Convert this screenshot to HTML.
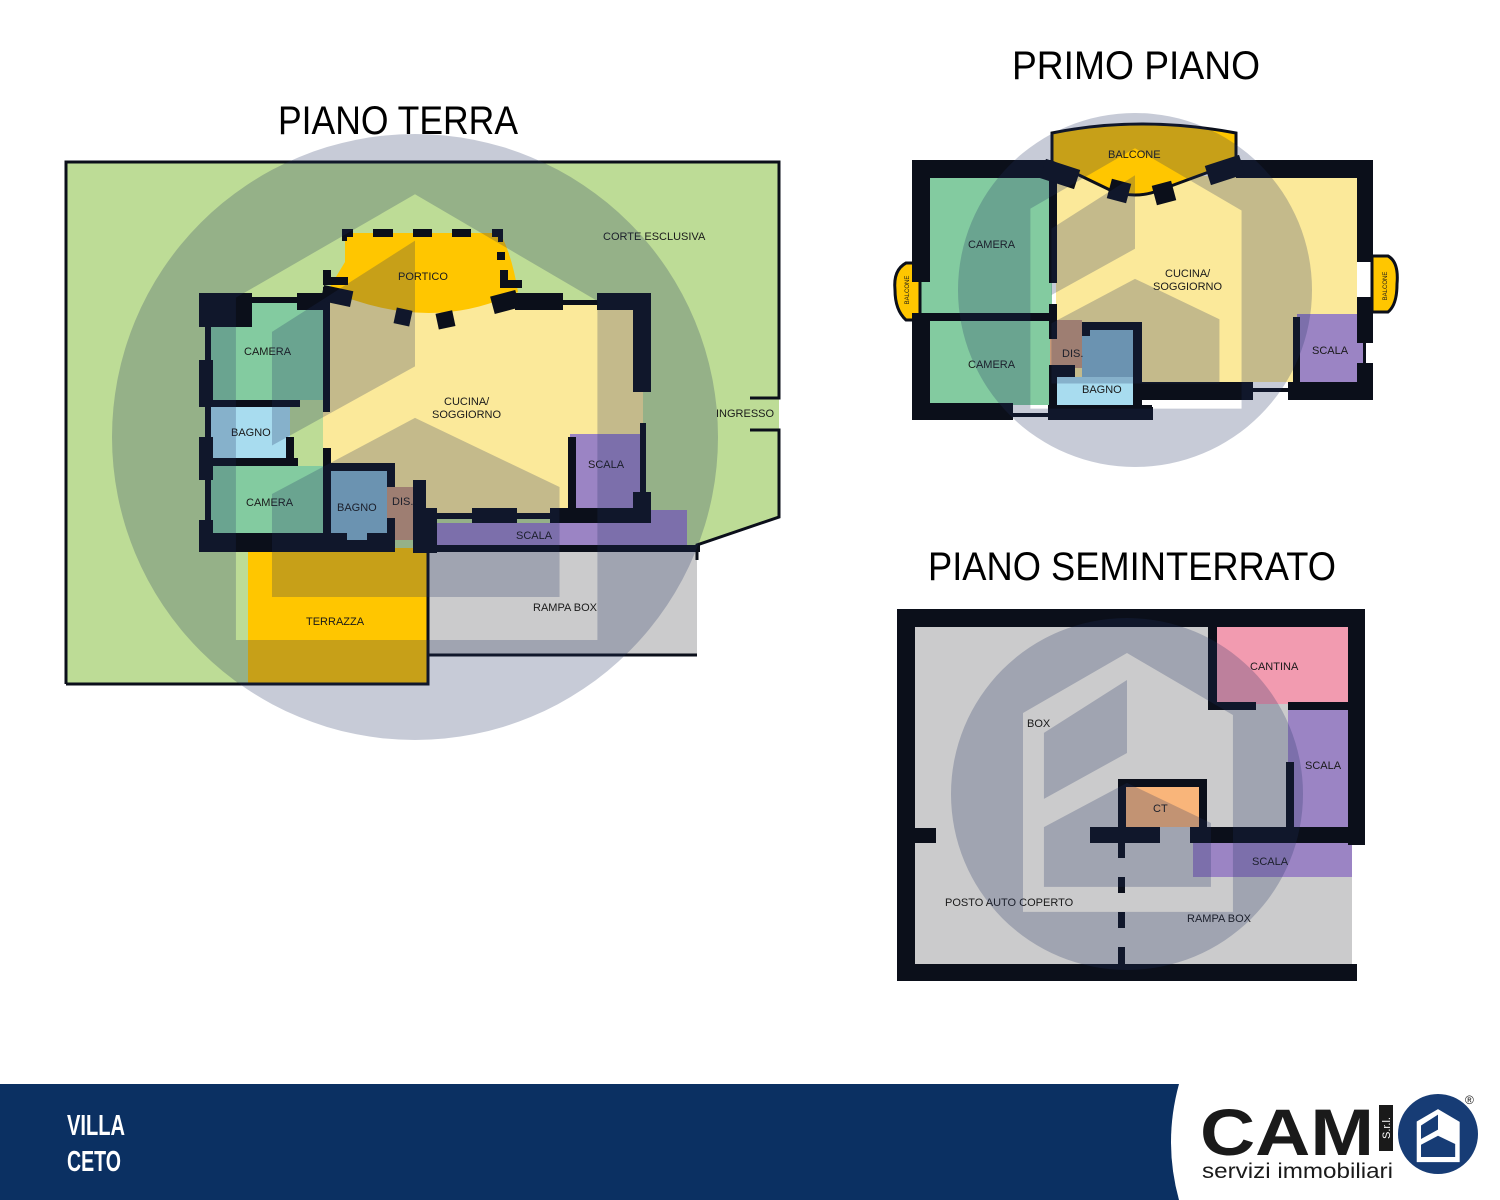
<!DOCTYPE html>
<html><head><meta charset="utf-8"><style>
html,body{margin:0;padding:0;background:#fff;width:1500px;height:1200px;overflow:hidden;}
svg{display:block;}
.t{font-family:"Liberation Sans",sans-serif;font-size:11px;fill:#1a1a1a;}
.h{font-family:"Liberation Sans",sans-serif;font-size:40px;fill:#000;}
</style></head><body>
<svg width="1500" height="1200" viewBox="0 0 1500 1200" xmlns="http://www.w3.org/2000/svg">
<defs>
<path id="ov" fill-rule="evenodd" d="M-1000,0 A1000,1000 0 1,0 1000,0 A1000,1000 0 1,0 -1000,0 Z M-591,-460 L0,-801 L602,-449 L602,670 L-591,670 Z M-472,-347 L0,-648 L0,-233 L-472,28 Z M-472,188 L0,-63 L477,165 L477,528 L-472,528 Z"/>
</defs>

<!-- ============ PIANO TERRA ============ -->
<text class="h" x="278" y="134" textLength="240" lengthAdjust="spacingAndGlyphs">PIANO TERRA</text>
<polygon points="66,162 779,162 779,517 697,545 697,655 428,655 428,684 66,684" fill="#bddc96"/>
<rect x="428" y="545" width="269" height="110" fill="#cbcbcc"/>
<rect x="248" y="548" width="180" height="136" fill="#ffc600"/>
<polyline points="66,684 66,162 779,162 779,398 750,398" fill="none" stroke="#0b0f1a" stroke-width="3"/>
<polyline points="750,430 779,430 779,517 697,545 697,560" fill="none" stroke="#0b0f1a" stroke-width="3"/>
<polyline points="66,684 428,684 428,655 697,655" fill="none" stroke="#0b0f1a" stroke-width="3"/>
<line x1="428" y1="548" x2="428" y2="684" stroke="#0b0f1a" stroke-width="3"/>
<rect x="323" y="300" width="320" height="215" fill="#fbe99a"/>
<path d="M345,233 L500,233 Q512,255 518,292 Q430,335 328,290 L345,262 Z" fill="#ffc600"/>
<rect x="211" y="303" width="112" height="97" fill="#83cba0"/>
<rect x="211" y="407" width="79" height="51" fill="#a8dcef"/>
<rect x="211" y="466" width="112" height="70" fill="#83cba0"/>
<rect x="331" y="471" width="56" height="69" fill="#85b4cc"/>
<rect x="387" y="487" width="31" height="53" fill="#c89878"/>
<rect x="570" y="434" width="70" height="75" fill="#9b84c4"/>
<polygon points="430,523 650,523 650,510 687,510 687,545 430,545" fill="#9b84c4"/>
<g fill="#0b0f1a">
<rect x="205" y="293" width="6" height="259"/>
<rect x="199" y="293" width="53" height="34"/>
<rect x="199" y="360" width="14" height="47"/>
<rect x="199" y="437" width="14" height="43"/>
<rect x="199" y="520" width="14" height="32"/>
<rect x="252" y="297" width="45" height="6"/>
<rect x="297" y="293" width="30" height="17"/>
<rect x="323" y="287" width="7" height="125"/>
<rect x="211" y="400" width="89" height="7"/>
<rect x="286" y="437" width="8" height="21"/>
<rect x="211" y="458" width="87" height="8"/>
<rect x="323" y="448" width="8" height="92"/>
<rect x="323" y="463" width="72" height="8"/>
<rect x="387" y="463" width="8" height="24"/>
<rect x="387" y="518" width="8" height="34"/>
<rect x="199" y="533" width="148" height="19"/>
<rect x="347" y="540" width="20" height="12"/>
<rect x="367" y="533" width="28" height="19"/>
<rect x="413" y="480" width="13" height="73"/>
<rect x="413" y="508" width="24" height="45"/>
<rect x="417" y="545" width="283" height="7"/>
<rect x="437" y="513" width="35" height="6"/>
<rect x="472" y="508" width="45" height="15"/>
<rect x="517" y="513" width="33" height="6"/>
<rect x="550" y="508" width="101" height="15"/>
<rect x="568" y="437" width="8" height="73"/>
<rect x="640" y="423" width="6" height="70"/>
<rect x="633" y="492" width="18" height="31"/>
<rect x="515" y="293" width="48" height="17"/>
<rect x="563" y="300" width="34" height="5"/>
<rect x="597" y="293" width="54" height="17"/>
<rect x="633" y="293" width="18" height="99"/>
<rect x="342" y="229" width="11" height="8"/><rect x="342" y="229" width="5" height="12"/>
<rect x="373" y="229" width="20" height="8"/>
<rect x="413" y="229" width="19" height="8"/>
<rect x="452" y="229" width="19" height="8"/>
<rect x="492" y="229" width="11" height="8"/><rect x="498" y="229" width="5" height="13"/>
<rect x="497" y="252" width="8" height="8"/>
<rect x="500" y="270" width="8" height="17"/><rect x="500" y="280" width="22" height="8"/>
<rect x="323" y="277" width="25" height="8"/><rect x="323" y="270" width="8" height="15"/>
<rect x="322" y="288" width="30" height="16" transform="rotate(12 337 296)"/>
<rect x="492" y="293" width="26" height="18" transform="rotate(-15 505 302)"/>
<rect x="395" y="309" width="16" height="16" transform="rotate(12 403 317)"/>
<rect x="437" y="312" width="17" height="16" transform="rotate(-12 445 320)"/>
</g>
<g class="t">
<text x="603" y="240">CORTE ESCLUSIVA</text>
<text x="398" y="280">PORTICO</text>
<text x="244" y="355">CAMERA</text>
<text x="444" y="405">CUCINA/</text>
<text x="432" y="418">SOGGIORNO</text>
<text x="716" y="417">INGRESSO</text>
<text x="231" y="436">BAGNO</text>
<text x="588" y="468">SCALA</text>
<text x="246" y="506">CAMERA</text>
<text x="337" y="511">BAGNO</text>
<text x="392" y="505">DIS.</text>
<text x="516" y="539">SCALA</text>
<text x="533" y="611">RAMPA BOX</text>
<text x="306" y="625">TERRAZZA</text>
</g>
<use href="#ov" transform="translate(415,437) scale(0.303)" fill="#1e3060" fill-opacity="0.25"/>

<!-- ============ PRIMO PIANO ============ -->
<text class="h" x="1012" y="79" textLength="248" lengthAdjust="spacingAndGlyphs">PRIMO PIANO</text>
<rect x="1056" y="176" width="301" height="206" fill="#fbe99a"/>
<rect x="920" y="176" width="132" height="140" fill="#83cba0"/>
<rect x="930" y="320" width="122" height="85" fill="#83cba0"/>
<rect x="1050" y="320" width="32" height="48" fill="#c89878"/>
<rect x="1082" y="328" width="53" height="60" fill="#85b4cc"/>
<rect x="1057" y="377" width="76" height="28" fill="#a8dcef"/>
<rect x="1297" y="314" width="68" height="68" fill="#9b84c4"/>
<path d="M1052,133 Q1140,115 1236,133 L1236,162 L1160,190 Q1135,200 1110,190 L1052,162 Z" fill="#ffc600" stroke="#0b0f1a" stroke-width="3"/>
<path d="M895,290 Q893,270 906,263 L920,263 L920,320 L906,320 Q895,310 895,290 Z" fill="#ffc600" stroke="#0b0f1a" stroke-width="3"/>
<path d="M1397,284 Q1399,262 1388,256 L1372,256 L1372,312 L1388,312 Q1397,305 1397,284 Z" fill="#ffc600" stroke="#0b0f1a" stroke-width="3"/>
<g fill="#0b0f1a">
<rect x="912" y="160" width="18" height="122"/>
<rect x="912" y="313" width="18" height="107"/>
<rect x="912" y="160" width="140" height="18"/>
<rect x="1236" y="160" width="137" height="18"/>
<rect x="1357" y="160" width="16" height="102"/>
<rect x="1357" y="297" width="16" height="46"/>
<rect x="1357" y="363" width="16" height="37"/>
<rect x="1363" y="343" width="3" height="20"/>
<rect x="912" y="313" width="140" height="8"/>
<rect x="1049" y="170" width="8" height="113"/>
<rect x="1049" y="304" width="8" height="35"/>
<rect x="1049" y="365" width="8" height="55"/>
<rect x="1050" y="365" width="25" height="12"/>
<rect x="912" y="403" width="101" height="17"/>
<rect x="1013" y="413" width="35" height="4"/>
<rect x="1048" y="405" width="105" height="15"/>
<rect x="1082" y="322" width="60" height="8"/>
<rect x="1082" y="322" width="8" height="14"/>
<rect x="1133" y="322" width="9" height="85"/>
<rect x="1133" y="382" width="120" height="18"/>
<rect x="1253" y="388" width="35" height="4"/>
<rect x="1288" y="382" width="85" height="18"/>
<rect x="1293" y="317" width="7" height="70"/>
<rect x="1042" y="164" width="36" height="20" transform="rotate(18 1060 174)"/>
<rect x="1109" y="181" width="20" height="20" transform="rotate(15 1119 191)"/>
<rect x="1154" y="183" width="20" height="20" transform="rotate(-15 1164 193)"/>
<rect x="1207" y="160" width="36" height="20" transform="rotate(-18 1225 170)"/>
</g>
<rect x="1152" y="400" width="90" height="7" fill="#fff"/>
<g class="t">
<text x="1108" y="158">BALCONE</text>
<text x="968" y="248">CAMERA</text>
<text x="1165" y="277">CUCINA/</text>
<text x="1153" y="290">SOGGIORNO</text>
<text x="1062" y="357">DIS.</text>
<text x="1312" y="354">SCALA</text>
<text x="968" y="368">CAMERA</text>
<text x="1082" y="393">BAGNO</text>
<text x="909" y="290" font-size="6" transform="rotate(-90 909 290)" text-anchor="middle">BALCONE</text>
<text x="1387" y="286" font-size="6" transform="rotate(-90 1387 286)" text-anchor="middle">BALCONE</text>
</g>
<use href="#ov" transform="translate(1135,290) scale(0.177)" fill="#1e3060" fill-opacity="0.25"/>

<!-- ============ PIANO SEMINTERRATO ============ -->
<text class="h" x="928" y="580" textLength="408" lengthAdjust="spacingAndGlyphs">PIANO SEMINTERRATO</text>
<rect x="915" y="627" width="437" height="338" fill="#cbcbcc"/>
<rect x="1216" y="627" width="132" height="77" fill="#f29bb0"/>
<rect x="1288" y="710" width="60" height="118" fill="#9b84c4"/>
<rect x="1193" y="843" width="159" height="34" fill="#9b84c4"/>
<rect x="1126" y="787" width="73" height="40" fill="#f9b57a"/>
<g fill="#0b0f1a">
<rect x="897" y="609" width="468" height="18"/>
<rect x="897" y="609" width="18" height="372"/>
<rect x="1348" y="609" width="17" height="236"/>
<rect x="897" y="964" width="460" height="17"/>
<rect x="1208" y="627" width="9" height="83"/>
<rect x="1208" y="702" width="48" height="8"/>
<rect x="1288" y="702" width="60" height="8"/>
<rect x="1286" y="762" width="8" height="68"/>
<rect x="1118" y="779" width="89" height="8"/>
<rect x="1118" y="779" width="8" height="50"/>
<rect x="1199" y="779" width="8" height="50"/>
<rect x="1090" y="827" width="70" height="16"/>
<rect x="1190" y="827" width="175" height="16"/>
<rect x="915" y="828" width="21" height="15"/>
<rect x="1118" y="843" width="7" height="15"/>
<rect x="1118" y="877" width="7" height="16"/>
<rect x="1118" y="912" width="7" height="16"/>
<rect x="1118" y="947" width="7" height="18"/>
</g>
<g class="t">
<text x="1250" y="670">CANTINA</text>
<text x="1027" y="727">BOX</text>
<text x="1305" y="769">SCALA</text>
<text x="1153" y="812">CT</text>
<text x="1252" y="865">SCALA</text>
<text x="945" y="906">POSTO AUTO COPERTO</text>
<text x="1187" y="922">RAMPA BOX</text>
</g>
<use href="#ov" transform="translate(1127,794) scale(0.176)" fill="#1e3060" fill-opacity="0.25"/>

<!-- ============ FOOTER ============ -->
<rect x="0" y="1084" width="1500" height="116" fill="#0b3062"/>
<path d="M1179,1084 Q1163,1142 1179,1200 L1500,1200 L1500,1084 Z" fill="#fff"/>
<text x="67" y="1135" font-family="'Liberation Sans Narrow','Liberation Sans',sans-serif" font-weight="bold" font-size="29" fill="#fff" textLength="58" lengthAdjust="spacingAndGlyphs">VILLA</text>
<text x="67" y="1171" font-family="'Liberation Sans Narrow','Liberation Sans',sans-serif" font-weight="bold" font-size="29" fill="#fff" textLength="54" lengthAdjust="spacingAndGlyphs">CETO</text>
<text x="1200" y="1155" font-family="'Liberation Sans',sans-serif" font-weight="bold" font-size="66" fill="#1a1a1a" textLength="174" lengthAdjust="spacingAndGlyphs">CAM</text>
<rect x="1379" y="1105" width="14" height="46" fill="#1a1a1a"/>
<text x="1390" y="1128" font-family="'Liberation Sans',sans-serif" font-size="11" fill="#fff" transform="rotate(-90 1390 1128)" text-anchor="middle">S.r.l.</text>
<text x="1202" y="1178" font-family="'Liberation Sans',sans-serif" font-size="21" fill="#1a1a1a" textLength="191" lengthAdjust="spacingAndGlyphs">servizi immobiliari</text>
<circle cx="1438" cy="1134" r="40" fill="#173c75"/>
<g transform="translate(1438,1138) scale(0.036)">
<polygon points="-591,-460 0,-801 602,-449 602,670 -591,670" fill="#fff"/>
<polygon points="-472,-347 0,-648 0,-233 -472,28" fill="#173c75"/>
<polygon points="-472,188 0,-63 477,165 477,528 -472,528" fill="#173c75"/>
</g>
<text x="1465" y="1104" font-family="'Liberation Sans',sans-serif" font-size="12" fill="#1a1a1a">®</text>
</svg>
</body></html>
